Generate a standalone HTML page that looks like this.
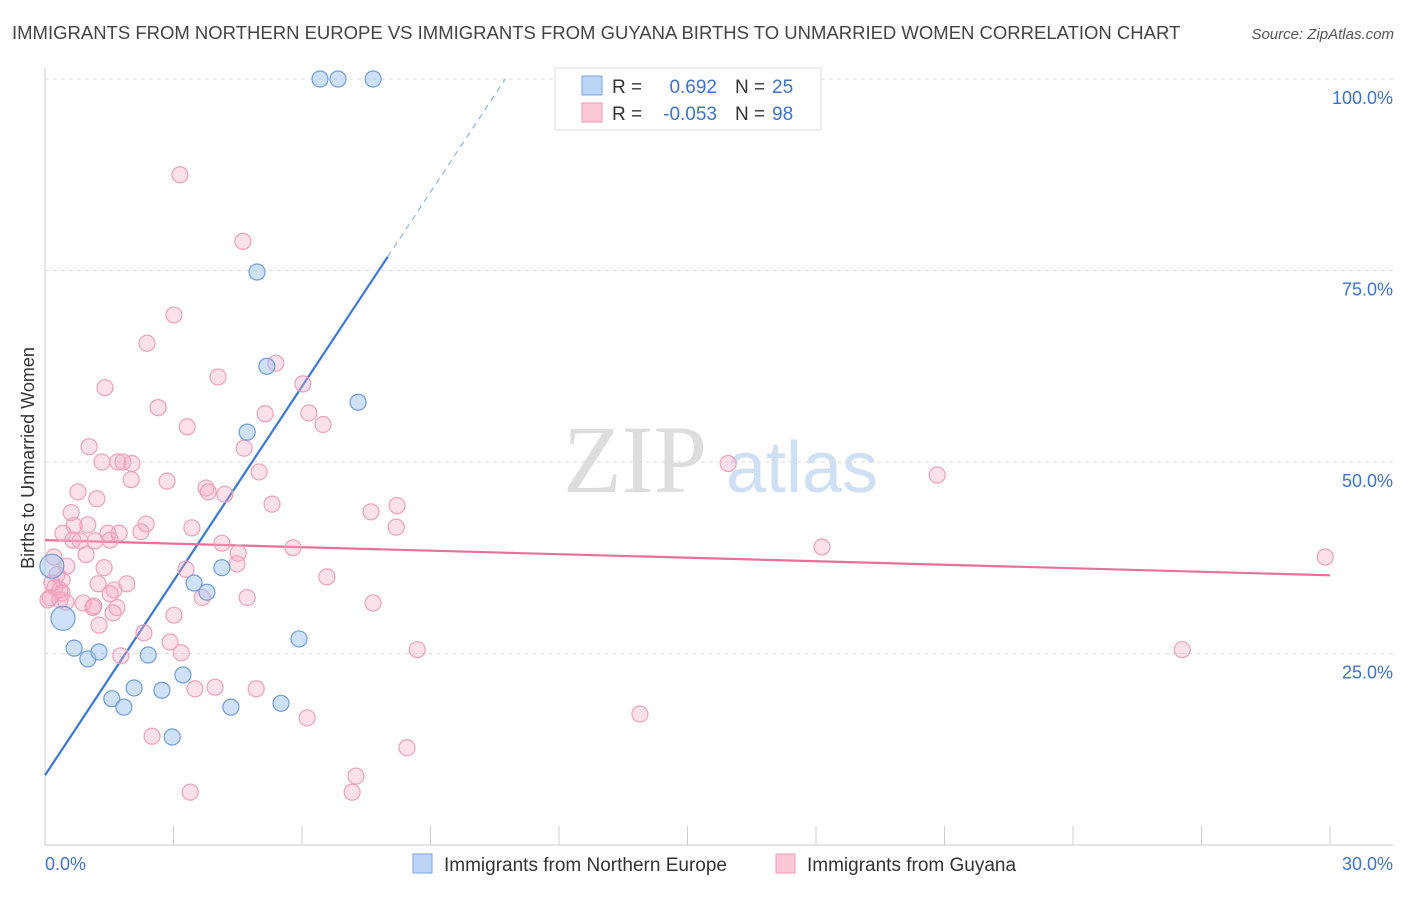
<!DOCTYPE html>
<html><head><meta charset="utf-8"><style>
body{margin:0;background:#fff;font-family:"Liberation Sans",sans-serif;}
svg text{font-family:"Liberation Sans",sans-serif;}
</style></head><body>
<svg id="c" width="1406" height="892" xmlns="http://www.w3.org/2000/svg">
<text x="12" y="39" font-size="18.5" fill="#444">IMMIGRANTS FROM NORTHERN EUROPE VS IMMIGRANTS FROM GUYANA BIRTHS TO UNMARRIED WOMEN CORRELATION CHART</text>
<text x="1394" y="39" font-size="15" fill="#555" font-style="italic" text-anchor="end">Source: ZipAtlas.com</text>
<text transform="translate(34,458) rotate(-90)" font-size="18" fill="#333" text-anchor="middle">Births to Unmarried Women</text>
<text x="635" y="492" font-size="96" fill="#ddd" text-anchor="middle" font-family="Liberation Serif" style="font-family:'Liberation Serif',serif">ZIP</text>
<text x="802" y="492" font-size="72" fill="#cfe0f5" text-anchor="middle">atlas</text>
<g id="grid"></g><g id="axes"></g><g id="lines"></g><g id="pts"></g>
<g>
<rect x="555" y="68" width="266" height="62" fill="#fff" stroke="#ddd"/>
<rect x="582" y="76" width="20" height="19" fill="#bcd5f5" stroke="#7aa6e6"/>
<rect x="582" y="103" width="20" height="19" fill="#fcc8d8" stroke="#ef9ab4"/>
<text x="612" y="93" font-size="19" fill="#333">R =</text><text x="717" y="93" font-size="19" fill="#3d73cc" text-anchor="end">0.692</text>
<text x="735" y="93" font-size="19" fill="#333">N =</text><text x="772" y="93" font-size="19" fill="#3d73cc">25</text>
<text x="612" y="120" font-size="19" fill="#333">R =</text><text x="717" y="120" font-size="19" fill="#3d73cc" text-anchor="end">-0.053</text>
<text x="735" y="120" font-size="19" fill="#333">N =</text><text x="772" y="120" font-size="19" fill="#3d73cc">98</text>
</g>
<g>
<rect x="413" y="854" width="19" height="19" fill="#bcd5f5" stroke="#7aa6e6"/>
<text x="444" y="871" font-size="19" fill="#333">Immigrants from Northern Europe</text>
<rect x="776" y="854" width="19" height="19" fill="#fcc8d8" stroke="#ef9ab4"/>
<text x="807" y="871" font-size="19" fill="#333">Immigrants from Guyana</text>
</g>
</svg>
<script>
const blueX=[6.42,6.84,7.66,4.95,5.18,7.31,4.72,3.48,4.13,3.78,5.93,0.68,1.00,1.26,2.41,3.22,2.08,2.73,1.56,1.84,4.34,5.51,2.97,0.16,0.42];
const blueY=[100,100,100,74.8,62.5,57.8,53.9,34.2,36.2,33.0,26.9,25.7,24.3,25.2,24.8,22.2,20.5,20.2,19.1,18.0,18.0,18.5,14.1,36.4,29.6];
const blueBig=[0,0,0,0,0,0,0,0,0,0,0,0,0,0,0,0,0,0,0,0,0,0,0,1,1];
const pinkX=[3.15,4.62,3.01,2.38,5.39,4.04,6.02,1.40,2.64,5.14,6.16,6.49,3.32,1.03,4.65,1.33,1.70,1.82,2.03,5.00,2.85,2.01,0.77,3.76,3.81,4.20,1.21,5.30,8.22,7.61,0.61,2.36,0.68,1.00,3.43,8.20,0.42,1.47,1.73,2.24,0.82,1.17,4.13,5.79,18.14,4.51,0.96,0.21,0.51,1.38,3.29,4.48,6.58,0.40,1.24,1.91,0.23,1.61,1.52,0.40,0.12,0.35,0.49,0.89,4.72,7.66,1.12,1.68,1.59,3.01,2.31,2.92,3.18,1.77,8.69,3.50,3.97,4.93,6.12,13.89,2.50,8.45,7.26,3.39,7.17,15.95,20.83,29.89,26.55,1.14,0.28,0.07,0.65,1.52,0.35,0.16,1.26,3.67];
const pinkY=[87.5,78.8,69.2,65.5,62.9,61.1,60.2,59.7,57.1,56.3,56.4,54.9,54.6,52.0,51.8,50.0,50.0,50.0,49.8,48.7,47.5,47.7,46.1,46.6,46.1,45.8,45.2,44.5,44.3,43.5,43.4,41.9,41.7,41.8,41.4,41.5,40.7,40.7,40.7,40.9,39.7,39.7,39.4,38.8,38.9,38.1,37.9,37.6,36.4,36.2,36.0,36.7,35.0,34.6,34.1,34.1,33.6,33.3,32.8,32.9,32.3,32.0,31.7,31.6,32.3,31.6,31.0,31.0,30.3,30.0,27.7,26.5,25.1,24.7,25.5,20.4,20.6,20.4,16.6,17.1,14.2,12.7,9.0,6.9,6.9,49.8,48.3,37.6,25.5,31.2,35.3,32.0,39.8,39.8,33.3,34.2,28.7,32.3];
const blueTrend=[9.1,8.46];   // intercept, slope
const pinkTrend=[39.8,-0.153];
const yTicks=[25,50,75,100];
const yTickLabels=["25.0%","50.0%","75.0%","100.0%"];
const xTicks=[0,3,6,9,12,15,18,21,24,27,30];

const NS="http://www.w3.org/2000/svg";
const X=v=>45+v/30*1285, Y=v=>845-v*7.66;
function mk(p,t,a){const e=document.createElementNS(NS,t);for(const k in a)e.setAttribute(k,a[k]);document.getElementById(p).appendChild(e);return e;}
yTicks.forEach((t,i)=>{
  const g=mk('grid','line',{x1:45,x2:1393,y1:Y(t),y2:Y(t),stroke:'#ddd','stroke-dasharray':'4 4'});
  
  
  const l=mk('grid','text',{x:1393,y:Y(t)+25,'font-size':18,fill:'#3d73cc','text-anchor':'end'});
  l.textContent=yTickLabels[i];
  
  
});
const ax=mk('axes','line',{x1:45,x2:45,y1:68,y2:845,stroke:'#ccc'});


const bx=mk('axes','line',{x1:45,x2:1393,y1:845,y2:845,stroke:'#ccc'});


xTicks.forEach(t=>{
  const k=mk('axes','line',{x1:X(t),x2:X(t),y1:826,y2:845,stroke:'#ccc'});
  
  
});
const l0=mk('axes','text',{x:45,y:870,'font-size':18,fill:'#3d73cc'});l0.textContent='0.0%';


const l1=mk('axes','text',{x:1393,y:870,'font-size':18,fill:'#3d73cc','text-anchor':'end'});l1.textContent='30.0%';


const bEnd=8.0, bTop=(100-blueTrend[0])/blueTrend[1];
const b1=mk('lines','line',{x1:X(0),y1:Y(blueTrend[0]),x2:X(bEnd),y2:Y(blueTrend[0]+blueTrend[1]*bEnd),stroke:'#3a78d6','stroke-width':2.2});


const b2=mk('lines','line',{x1:X(bEnd),y1:Y(blueTrend[0]+blueTrend[1]*bEnd),x2:X(bTop),y2:Y(100),stroke:'#8fb3e8','stroke-width':1.2,'stroke-dasharray':'6 5'});


const p1=mk('lines','line',{x1:X(0),y1:Y(pinkTrend[0]),x2:X(30),y2:Y(pinkTrend[0]+pinkTrend[1]*30),stroke:'#e8709a','stroke-width':2.2});


pinkX.forEach((x,i)=>{
  const c=mk('pts','circle',{cx:X(x),cy:Y(pinkY[i]),r:8,fill:'rgba(248,170,196,0.35)',stroke:'#eea0ba','stroke-width':1.2});
  
  
});
blueX.forEach((x,i)=>{
  const c=mk('pts','circle',{cx:X(x),cy:Y(blueY[i]),r:blueBig[i]?12:8,fill:'rgba(160,196,240,0.5)',stroke:'#6f9de0','stroke-width':1.2});
  
  
});
</script>
</body></html>
